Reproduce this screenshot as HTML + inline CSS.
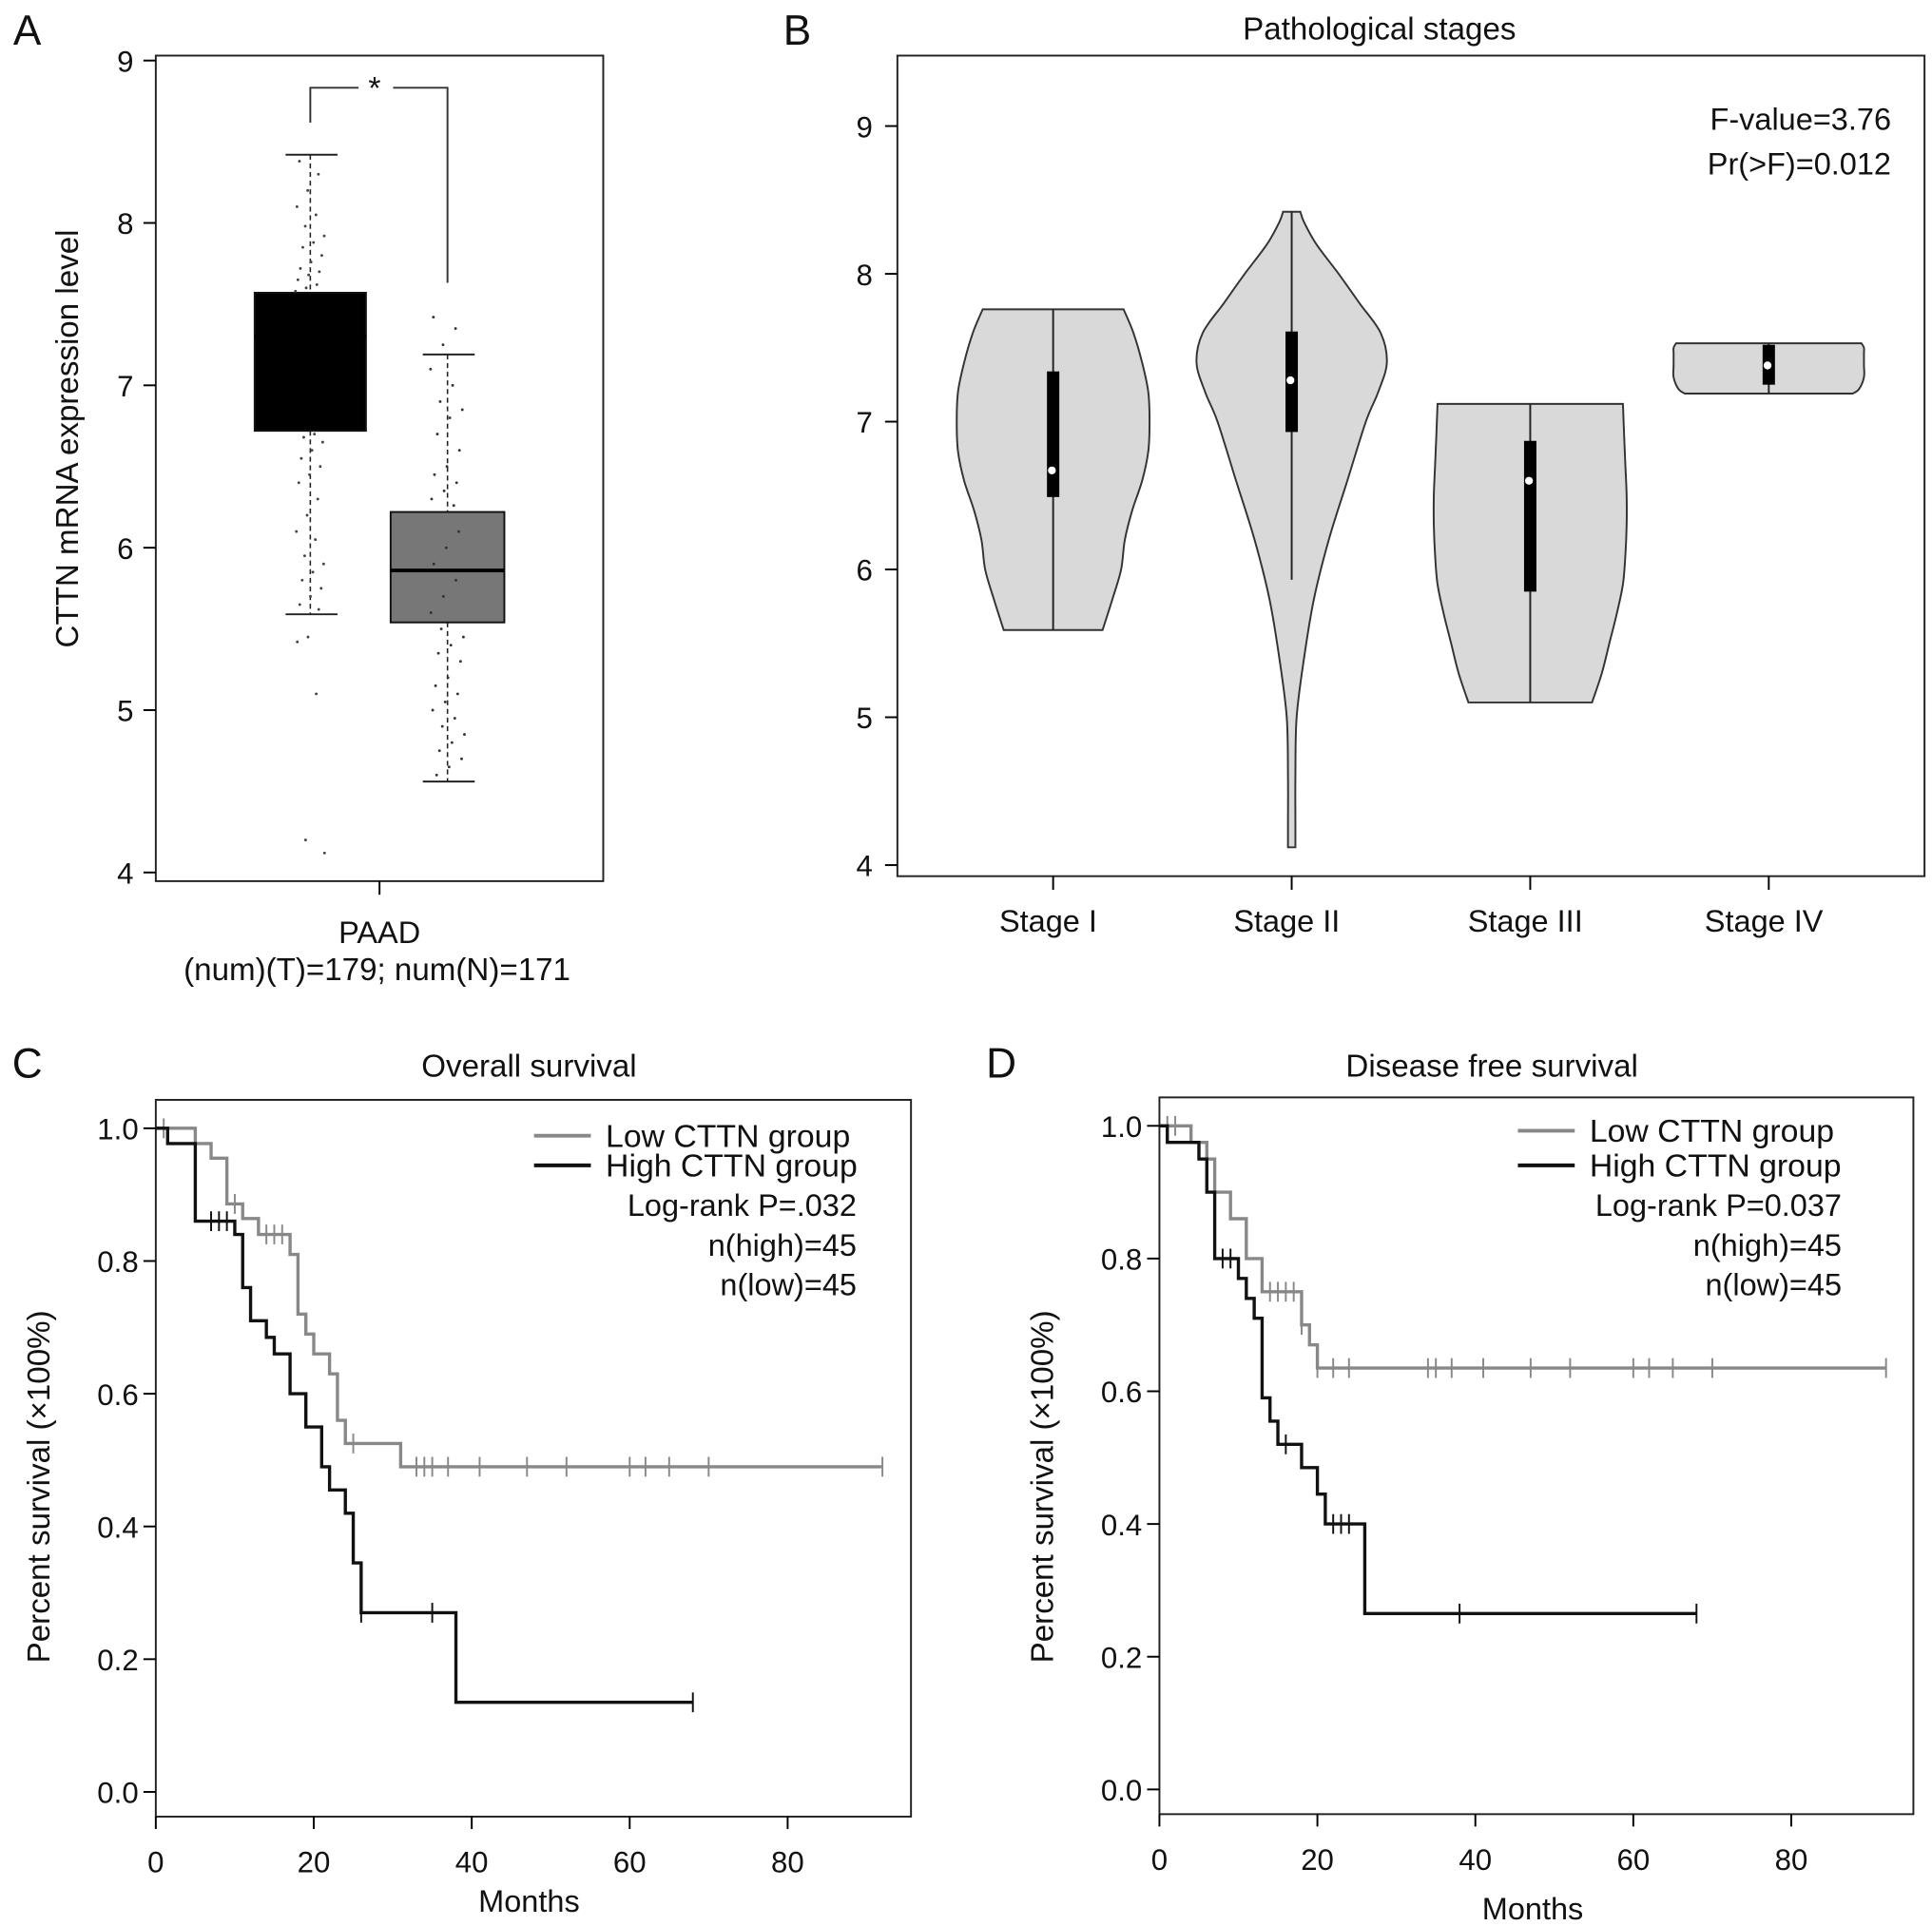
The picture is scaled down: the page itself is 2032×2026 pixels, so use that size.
<!DOCTYPE html>
<html><head><meta charset="utf-8"><style>
html,body{margin:0;padding:0;background:#fff;}
svg{display:block;font-family:"Liberation Sans",sans-serif;}
</style></head><body>
<svg id="fig" width="2032" height="2026" viewBox="0 0 1563 1558.5">
<rect width="1563" height="1558.5" fill="#fff"/>
<g id="gA"></g>
<g id="gB"></g>
<g id="gC"></g>
<g id="gD"></g>
</svg>
<script>
// ---------- Panel A data ----------
const aTicks = [4,5,6,7,8,9];
const tumorBox = [5.59, 6.72, 7.3, 7.57, 8.42];
const normalBox = [4.56, 5.54, 5.86, 6.22, 7.19];
const tumorPts = [8.38,8.3,8.2,8.1,8.05,7.98,7.92,7.88,7.85,7.8,7.76,7.72,7.7,7.68,7.65,7.62,7.6,7.58,6.7,6.68,6.65,6.6,6.55,6.5,6.45,6.4,6.3,6.2,6.1,6.05,5.95,5.9,5.85,5.8,5.75,5.7,5.65,5.62,5.45,5.42,5.1,4.2,4.12];
const normalPts = [7.42,7.35,7.25,7.1,7.0,6.9,6.85,6.8,6.7,6.6,6.5,6.45,6.4,6.35,6.3,6.26,5.5,5.45,5.4,5.35,5.3,5.2,5.15,5.1,5.05,5.0,4.95,4.9,4.85,4.8,4.75,4.7,4.65,4.6,6.1,6.0,5.9,5.8,5.7,5.6];
// ---------- Panel B data ----------
const stages = ["Stage I","Stage II","Stage III","Stage IV"];
const bTicks = [4,5,6,7,8,9];
const vioVals = [
 [5.59,5.8,6.0,6.2,6.4,6.6,6.8,7.0,7.2,7.4,7.6,7.76],
 [4.12,4.3,4.6,5.0,5.4,5.8,6.2,6.6,7.0,7.2,7.4,7.6,7.8,8.0,8.2,8.35,8.42],
 [5.1,5.3,5.5,5.7,5.9,6.1,6.3,6.5,6.7,6.9,7.12],
 [7.19,7.22,7.3,7.38,7.46,7.5,7.53]
];
const vioDens = [
 [40,48,55,58,64,72,77,78,77,72,65,57],
 [3,3,3,4,10,18,30,45,60,70,77,72,55,38,20,10,7],
 [50,58,64,70,75,77,78,78,77,76,75],
 [68,73,77,77,77,77,75]
];
const vioBox = [[6.49,6.67,7.34],[6.93,7.28,7.61],[5.85,6.6,6.87],[7.25,7.38,7.52]];
const vioWhisk = [[5.59,7.76],[5.93,8.42],[5.1,7.12],[7.19,7.53]];
// ---------- Panel C data ----------
const survTicksX = [0,20,40,60,80];
const survTicksY = [0,0.2,0.4,0.6,0.8,1.0];
const cLowT = [0,5,7,9,11,13,17,18,19,20,22,23,24,31,92];
const cLowS = [1,0.977,0.955,0.886,0.864,0.84,0.81,0.72,0.69,0.66,0.63,0.56,0.525,0.49,0.49];
const cLowCens = [1,10,14,15,16,25,33,34,35,37,41,47,52,60,62,65,70,92];
const cHighT = [0,1.5,5,10,11,12,14,15,17,19,21,22,24,25,26,38,68];
const cHighS = [1,0.977,0.86,0.84,0.76,0.71,0.685,0.66,0.60,0.55,0.49,0.455,0.42,0.345,0.27,0.135,0.135];
const cHighCens = [7,8,9,26,35,68];
// ---------- Panel D data ----------
const dLowT = [0,4,6,7,9,11,13,18,19,20,92];
const dLowS = [1,0.975,0.95,0.9,0.86,0.8,0.75,0.7,0.67,0.635,0.635];
const dLowCens = [1,2,14,15,16,17,18,20,22,24,34,35,37,41,47,52,60,62,65,70,92];
const dHighT = [0,1,5,6,7,10,11,12,13,14,15,18,20,21,26,68];
const dHighS = [1,0.975,0.95,0.9,0.8,0.77,0.74,0.71,0.59,0.555,0.52,0.485,0.445,0.40,0.265,0.265];
const dHighCens = [8,9,16,22,23,24,38,68];

const NS='http://www.w3.org/2000/svg';
function mk(p,tag,attrs,txt){const e=document.createElementNS(NS,tag);for(const k in attrs)e.setAttribute(k,attrs[k]);if(txt!==undefined)e.textContent=txt;p.appendChild(e);return e;}
function line(p,x1,y1,x2,y2,st,w,dash){const e=mk(p,'line',{x1,y1,x2,y2,stroke:st||'#000','stroke-width':w||1.5});if(dash)e.setAttribute('stroke-dasharray',dash);return e;}
function txt(p,x,y,s,size,anchor,extra){const e=mk(p,'text',Object.assign({x,y,'font-size':size||25,'text-anchor':anchor||'middle',fill:'#111'},extra||{}),s);return e;}

// ===== Panel A =====
(function(){
const g=document.getElementById('gA');
const yA=v=>49+(9-v)*131.4;
let t=txt(g,22,36,'A',34,'middle');
let r=mk(g,'rect',{x:126,y:45,width:362,height:668,fill:'none',stroke:'#222','stroke-width':1.5});

aTicks.forEach(v=>{let l=line(g,116,yA(v),126,yA(v));
 let tt=txt(g,108,yA(v)+9,String(v),24,'end');});
let lx=line(g,307,713,307,724);
t=txt(g,307,763,'PAAD',25);
t=txt(g,305,793,'(num)(T)=179; num(N)=171',25.5);
t=txt(g,0,0,'CTTN mRNA expression level',25.5,'middle',{transform:'translate(63,355) rotate(-90)'});
function box(b,cx,hw,fill,name){
 const gg=mk(g,'g',{});
 line(gg,cx,yA(b[4]),cx,yA(b[3]),'#222',1.2,'4,3');line(gg,cx,yA(b[1]),cx,yA(b[0]),'#222',1.2,'4,3');
 line(gg,cx-20,yA(b[4]),cx+22,yA(b[4]),'#222',1.5);line(gg,cx-20,yA(b[0]),cx+22,yA(b[0]),'#222',1.5);
 mk(gg,'rect',{x:cx-hw,y:yA(b[3]),width:2*hw,height:yA(b[1])-yA(b[3]),fill:fill,stroke:'#111','stroke-width':1.5});
 line(gg,cx-hw,yA(b[2]),cx+hw,yA(b[2]),'#000',3);
 return gg;}
box(tumorBox,251,45,'#000','tumor-box');
box(normalBox,362,46,'#777','normal-box');
const jit=i=>(((i*7919+13)%97)/97-0.5);
tumorPts.forEach((v,i)=>{const c=mk(g,'circle',{cx:251+jit(i)*24,cy:yA(v),r:1.1,fill:'#444'});});
normalPts.forEach((v,i)=>{const c=mk(g,'circle',{cx:362+jit(i+50)*28,cy:yA(v),r:1.1,fill:'#333'});});
const br=mk(g,'path',{d:`M251,${yA(tumorBox[4])-26} V71 H290 M318,71 H362 V${yA(normalBox[4])-58}`,fill:'none',stroke:'#333','stroke-width':1.5});

t=txt(g,303,80,'*',26);
})();

// ===== Panel B =====
(function(){
const g=document.getElementById('gB');
const yB=v=>102+(9-v)*119.6;
const xs=i=>852+i*193;
let t=txt(g,645,36,'B',34);
t=txt(g,1116,32,'Pathological stages',25.5);
let r=mk(g,'rect',{x:726,y:45,width:831,height:664,fill:'none',stroke:'#222','stroke-width':1.5});
bTicks.forEach(v=>{let l=line(g,716,yB(v),726,yB(v));
 let tt=txt(g,706,yB(v)+9,String(v),24,'end');});
stages.forEach((s,i)=>{let l=line(g,xs(i),709,xs(i),720);
 let tt=txt(g,xs(i)-4,754,s,25);});
t=txt(g,1530,105,'F-value=3.76',25,'end');
t=txt(g,1530,141,'Pr(>F)=0.012',25,'end');
function cr(arr){let s='';for(let k=0;k<arr.length-1;k++){const p0=arr[Math.max(0,k-1)],p1=arr[k],p2=arr[k+1],p3=arr[Math.min(arr.length-1,k+2)];
 const c1=[p1[0]+(p2[0]-p0[0])/6,p1[1]+(p2[1]-p0[1])/6],c2=[p2[0]-(p3[0]-p1[0])/6,p2[1]-(p3[1]-p1[1])/6];
 s+=` C${c1[0]},${c1[1]} ${c2[0]},${c2[1]} ${p2[0]},${p2[1]}`;}return s;}
stages.forEach((s,i)=>{
 const cx=xs(i),vals=vioVals[i],d=vioDens[i];
 const gg=mk(g,'g',{});
 const right=vals.map((v,k)=>[cx+d[k],yB(v)]);
 const left=vals.map((v,k)=>[cx-d[k],yB(v)]).reverse();
 const dpath=`M${cx-d[0]},${yB(vals[0])} L${right[0][0]},${right[0][1]}`+cr(right)+` L${left[0][0]},${left[0][1]}`+cr(left)+'Z';
 mk(gg,'path',{d:dpath,fill:'#d9d9d9',stroke:'#333','stroke-width':1.5});
 line(gg,cx,yB(vioWhisk[i][0]),cx,yB(vioWhisk[i][1]),'#222',1.5);
 const b=vioBox[i];
 mk(gg,'rect',{x:cx-5,y:yB(b[2]),width:10,height:yB(b[0])-yB(b[2]),fill:'#000'});
 mk(gg,'circle',{cx:cx-1,cy:yB(b[1]),r:3.2,fill:'#fff'});
});
})();

// ===== Survival panels =====
function survPanel(id,o){
 const g=document.getElementById(id);
 const X=m=>o.x0+m*6.39, Y=s=>o.y0-s*537;
 let t=txt(g,o.lx,872,o.letter,34);
 t=txt(g,o.tx,871,o.title,25.5);
 let r=mk(g,'rect',{x:o.x0,y:o.top,width:o.w,height:o.bot-o.top,fill:'none',stroke:'#222','stroke-width':1.5});
 survTicksY.forEach(v=>{let l=line(g,o.x0-10,Y(v),o.x0,Y(v));
  let tt=txt(g,o.x0-14,Y(v)+9,v.toFixed(1),24,'end');});
 survTicksX.forEach(v=>{let l=line(g,X(v),o.bot,X(v),o.bot+10);
  let tt=txt(g,X(v),o.bot+45,String(v),24);});
 t=txt(g,o.mx,o.my,'Months',25);
 t=txt(g,0,0,'Percent survival (×100%)',25.5,'middle',{transform:`translate(${o.x0-86},1203) rotate(-90)`});
 function curve(T,S,C,col,name){
  let d=`M${X(T[0])},${Y(S[0])}`;
  for(let k=1;k<T.length;k++){d+=` H${X(T[k])} V${Y(S[k])}`;}
  const p=mk(g,'path',{d,fill:'none',stroke:col,'stroke-width':2.6});
  C.forEach(c=>{let s=S[0];for(let k=0;k<T.length;k++){if(T[k]<=c)s=S[k];}
   const l=line(g,X(c),Y(s)-8,X(c),Y(s)+8,col,1.5);});
 }
 curve(o.lowT,o.lowS,o.lowC,'#888','low-cttn-curve');
 curve(o.highT,o.highS,o.highC,'#111','high-cttn-curve');
 let l=line(g,o.legX,o.leg1,o.legX+46,o.leg1,'#888',3);
 l=line(g,o.legX,o.leg2,o.legX+46,o.leg2,'#111',3);
 t=txt(g,o.legX+58,o.leg1+9,'Low CTTN group',26,'start');
 t=txt(g,o.legX+58,o.leg2+9,'High CTTN group',26,'start');
 t=txt(g,o.rx,984,o.p,25,'end');
 t=txt(g,o.rx,1016,'n(high)=45',25,'end');
 t=txt(g,o.rx,1048,'n(low)=45',25,'end');
}
survPanel('gC',{x0:126,y0:1450,top:890,bot:1470,w:611,letter:'C',lx:22,tx:428,title:'Overall survival',mx:428,my:1547,
 lowT:cLowT,lowS:cLowS,lowC:cLowCens,highT:cHighT,highS:cHighS,highC:cHighCens,legX:432,leg1:919,leg2:943,rx:693,p:'Log-rank P=.032'});
survPanel('gD',{x0:938,y0:1448,top:888,bot:1468,w:610,letter:'D',lx:810,tx:1207,title:'Disease free survival',mx:1240,my:1553,
 lowT:dLowT,lowS:dLowS,lowC:dLowCens,highT:dHighT,highS:dHighS,highC:dHighCens,legX:1228,leg1:915,leg2:943,rx:1490,p:'Log-rank P=0.037'});
</script>
</body></html>
